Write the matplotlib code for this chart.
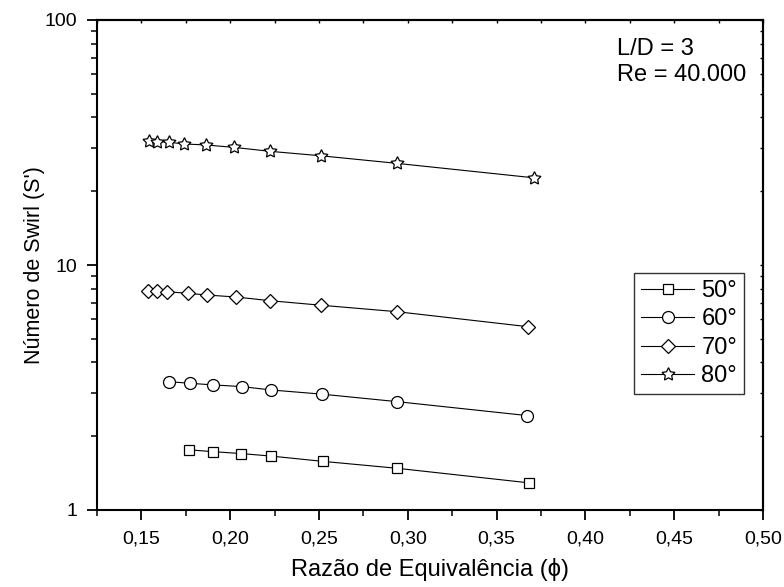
import matplotlib
matplotlib.use("Agg")
import matplotlib.pyplot as plt
from matplotlib.ticker import FixedLocator, NullFormatter, FixedFormatter, LogLocator

plt.rcParams['font.family'] = ['Liberation Sans', 'DejaVu Sans']

# Equivalence ratio (phi) and swirl number S' for each vane angle
phi_50 = [0.177, 0.1905, 0.206, 0.223, 0.252, 0.294, 0.3685]
s_50 = [1.76, 1.73, 1.70, 1.66, 1.58, 1.48, 1.29]

phi_60 = [0.1656, 0.1773, 0.1905, 0.2064, 0.223, 0.2518, 0.2937, 0.367]
s_60 = [3.34, 3.29, 3.24, 3.19, 3.09, 2.97, 2.77, 2.43]

phi_70 = [0.1535, 0.1588, 0.1645, 0.1764, 0.1871, 0.2035, 0.2224, 0.2513, 0.2937, 0.3677]
s_70 = [7.85, 7.83, 7.78, 7.66, 7.54, 7.40, 7.15, 6.85, 6.45, 5.60]

phi_80 = [0.154, 0.1588, 0.1654, 0.1739, 0.1862, 0.2022, 0.2226, 0.2513, 0.2937, 0.3708]
s_80 = [32.0, 31.9, 31.7, 31.2, 30.9, 30.2, 29.1, 27.9, 26.0, 22.7]

labels = ["50°", "60°", "70°", "80°"]
x_ticks = [0.15, 0.20, 0.25, 0.30, 0.35, 0.40, 0.45, 0.50]
x_tick_labels = ["0,15", "0,20", "0,25", "0,30", "0,35", "0,40", "0,45", "0,50"]

fig = plt.figure(figsize=(7.84, 5.87), dpi=100)
ax = fig.add_axes([97 / 784, 1 - 510 / 587, (763 - 97) / 784, (510 - 20) / 587])

common = dict(color="black", lw=0.8, mfc="white", mec="black", mew=0.9)
ax.plot(phi_50, s_50, marker="s", ms=7.6, label=labels[0], **common)
ax.plot(phi_60, s_60, marker="o", ms=8.6, label=labels[1], **common)
ax.plot(phi_70, s_70, marker="D", ms=7.4, label=labels[2], **common)
ax.plot(phi_80, s_80, marker=(5, 1, 0), ms=9.8, label=labels[3], **common)

ax.set_yscale("log")
ax.set_xlim(0.125, 0.50)
ax.set_ylim(1, 100)

ax.xaxis.set_major_locator(FixedLocator(x_ticks))
ax.xaxis.set_major_formatter(FixedFormatter(x_tick_labels))
ax.xaxis.set_minor_locator(FixedLocator([0.125 + 0.05 * i for i in range(8)]))
ax.yaxis.set_major_locator(FixedLocator([1, 10, 100]))
ax.yaxis.set_major_formatter(FixedFormatter(["1", "10", "100"]))
ax.yaxis.set_minor_locator(LogLocator(base=10, subs=range(2, 10)))
ax.yaxis.set_minor_formatter(NullFormatter())

for s in ax.spines.values():
    s.set_linewidth(1.5)

ax.tick_params(axis="both", which="major", direction="out", length=7, width=1.3,
               labelsize=14)
ax.tick_params(axis="x", which="major", pad=7.5)
ax.tick_params(axis="y", which="major", pad=7)
ax.tick_params(axis="both", which="minor", direction="out", length=4, width=1.1)
ax.tick_params(top=False, right=False)

# small inward ticks on the opposite spines
ax_top = ax.secondary_xaxis("top")
ax_top.xaxis.set_major_locator(FixedLocator(x_ticks))
ax_top.xaxis.set_minor_locator(FixedLocator([0.125 + 0.05 * i for i in range(8)]))
ax_top.tick_params(which="both", direction="in", length=2, width=1.0, labeltop=False)
ax_top.spines["top"].set_linewidth(1.5)

ax_right = ax.secondary_yaxis("right")
ax_right.yaxis.set_major_locator(FixedLocator([1, 10, 100]))
ax_right.yaxis.set_minor_locator(LogLocator(base=10, subs=range(2, 10)))
ax_right.yaxis.set_minor_formatter(NullFormatter())
ax_right.tick_params(which="both", direction="in", length=2.5, width=1.0, labelright=False)
ax_right.spines["right"].set_linewidth(1.5)

ax.set_xlabel("Razão de Equivalência (\u03d5)", fontsize=17, labelpad=8)
ax.set_ylabel("Número de Swirl (S')", fontsize=15.5, labelpad=0)

ax.text(0.781, 0.963, "L/D = 3\nRe = 40.000", transform=ax.transAxes,
        fontsize=17, va="top", ha="left", linespacing=1.25)

leg = ax.legend(loc="upper left", bbox_to_anchor=((634 - 97) / 666, (510 - 273) / 490),
                fontsize=17, frameon=True, fancybox=False, edgecolor="black",
                handlelength=2.25, handletextpad=0.3, borderpad=0.3,
                labelspacing=0.27, borderaxespad=0)
leg.get_frame().set_linewidth(1.0)

fig.savefig("out.png", dpi=100)
